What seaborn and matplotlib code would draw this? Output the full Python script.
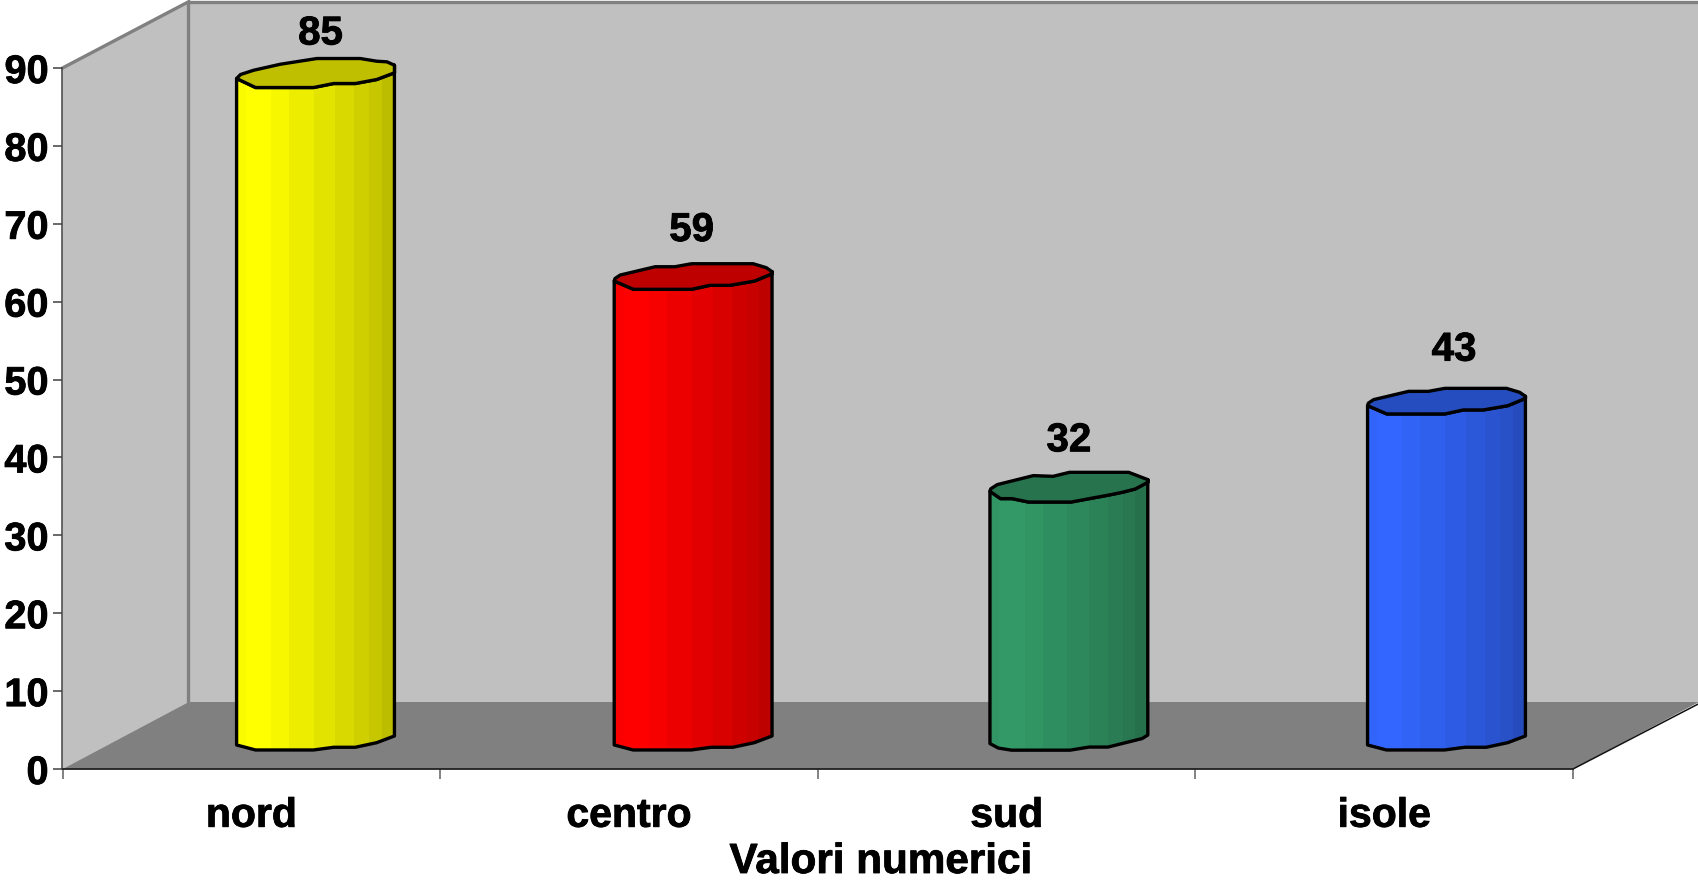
import matplotlib
matplotlib.use("Agg")
import matplotlib.pyplot as plt
import matplotlib.patheffects as pe
from matplotlib.patches import Polygon
import pandas as pd
import seaborn as sns

categories = ["nord", "centro", "sud", "isole"]
values = [85, 59, 32, 43]
y_ticks = [0, 10, 20, 30, 40, 50, 60, 70, 80, 90]
colors = ["#FFFF00", "#FF0000", "#339966", "#3366FF"]
x_title = "Valori numerici"

W, H = 1699, 882
PX_LEFT, PX_RIGHT, PX_BOTTOM, PX_TOP = 62.5, 1573, 769, 68
Y_MAX = 90
PX_PER_Y = (PX_BOTTOM - PX_TOP) / Y_MAX
DEPTH_X, DEPTH_Y, TOP_Y = 0.3337, 8.6, 98.5
BAR_W = 0.418
BAR_SHIFT = [0.17, 0.17, 0.165, 0.165]
BAR_BASE = 3.65

strip_edges = [0, .06, .12, .22, .335, .49, .625, .745, .84, .92, 1]
strip_shades = [.98, 1, 1, .97, .93, .89, .85, .81, .78, .74]
CAP_SHADE = .75

NORD_LOW = [(0, 0), (.12, -9), (.488, -9), (.615, -5), (.752, -5), (.888, -1), (1, 5.7)]
NORD_UP = [(1, 13.3), (.952, 16.7), (.888, 17.3), (.783, 20), (.509, 20), (.278, 14.3), (.109, 8.3), (.025, 4)]
MID_LOW = [(0, 0), (.122, -8.3), (.49, -8.3), (.606, -4.3), (.733, -4.3), (.89, 0), (1, 7.3)]
MID_UP = [(1, 9.3), (.964, 13.3), (.88, 17.3), (.49, 17.3), (.385, 14.3), (.26, 14.3), (.038, 6), (.005, 2.5)]
SUD_LOW = [(0, 0), (.067, -7.3), (.14, -7.3), (.244, -10.7), (.515, -10.7), (.63, -7.3),
           (.744, -4), (.838, -1), (.92, 2.3), (1, 9)]
SUD_UP = [(1, 11.7), (.879, 19), (.504, 19), (.4, 15), (.275, 15.7), (.046, 6.7), (.005, 2.5)]
cap_low = [NORD_LOW, MID_LOW, SUD_LOW, MID_LOW]
cap_up = [NORD_UP, MID_UP, SUD_UP, MID_UP]
FOOT_A = [(0, -4.4), (.12, -9.4), (.488, -9.4), (.615, -6.7), (.752, -6.7), (.888, -2.1), (1, 4.6)]
FOOT_B = [(0, -3), (.053, -7.5), (.137, -9.6), (.508, -9.6), (.628, -6.5), (.748, -6.5),
          (.964, 2), (1, 5.5)]
foots = [FOOT_A, FOOT_A, FOOT_B, FOOT_A]
label_dx = [5, -1.5, 0, 7.5]
label_dy = [49, 55, 55, 60]

sns.set_style("white")
plt.rcParams["font.family"] = ["Liberation Sans", "DejaVu Sans"]
plt.rcParams["font.weight"] = "bold"
HEAVY = [pe.withStroke(linewidth=0.6, foreground="black")]

fig = plt.figure(figsize=(W / 100, H / 100), dpi=100, facecolor="white")
ax = fig.add_axes([PX_LEFT / W, (H - PX_BOTTOM) / H,
                   (PX_RIGHT - PX_LEFT) / W, (PX_BOTTOM - PX_TOP) / H])
ax.patch.set_visible(False)

df = pd.DataFrame({"region": categories, "valore": values})
sns.barplot(data=df, x="region", y="valore", hue="region", palette=colors, legend=False,
            width=BAR_W, saturation=1, linewidth=0, ax=ax)
ax.set_xlim(-0.5, 3.5)
ax.set_ylim(0, Y_MAX)

# 3D box
L, R = -0.5, 3.5
wall = dict(closed=True, clip_on=False, linewidth=0)
ax.add_patch(Polygon([(L, 0), (L + DEPTH_X, DEPTH_Y), (L + DEPTH_X, TOP_Y), (L, Y_MAX)],
                     facecolor="#C0C0C0", zorder=.3, **wall))
ax.add_patch(Polygon([(L + DEPTH_X, DEPTH_Y), (R + DEPTH_X, DEPTH_Y), (R + DEPTH_X, TOP_Y), (L + DEPTH_X, TOP_Y)],
                     facecolor="#C0C0C0", zorder=.3, **wall))
ax.add_patch(Polygon([(L, 0), (R, 0), (R + DEPTH_X, DEPTH_Y), (L + DEPTH_X, DEPTH_Y)],
                     facecolor="#808080", zorder=.4, **wall))
ax.plot([L, L + DEPTH_X, L + DEPTH_X], [Y_MAX, TOP_Y, DEPTH_Y], color="#808080", lw=2.4,
        clip_on=False, zorder=.5, solid_joinstyle="miter")
ax.plot([L + DEPTH_X, R + DEPTH_X], [TOP_Y, TOP_Y], color="#808080", lw=2.4, clip_on=False, zorder=.5)
ax.plot([R, R + DEPTH_X], [0, DEPTH_Y - .2], color="#111111", lw=1.1, clip_on=False, zorder=.5)

# Cylinders
def shade(hex_color, factor):
    rgb = matplotlib.colors.to_rgb(hex_color)
    return tuple(c * factor for c in rgb)

for i, (patch, val, col) in enumerate(zip(ax.patches[:len(values)], values, colors)):
    patch.set_x(patch.get_x() + BAR_SHIFT[i])
    patch.set_y(BAR_BASE)
    x0, w, top = patch.get_x(), patch.get_width(), BAR_BASE + val
    to_xy = lambda pts, y: [(x0 + f * w, y + d / PX_PER_Y) for f, d in pts]
    low = to_xy(cap_low[i], top)
    up = to_xy(cap_up[i], top)
    foot = to_xy(foots[i], BAR_BASE)
    outline = low + up[:1] + foot[::-1]
    ax.add_patch(Polygon(outline, closed=True, facecolor="none", edgecolor="black",
                         linewidth=2.4, zorder=1.5, clip_on=False, joinstyle="round"))
    clip = Polygon(outline, closed=True, transform=ax.transData)
    patch.set_clip_path(clip)
    for a, b, s in zip(strip_edges[:-1], strip_edges[1:], strip_shades):
        st = ax.bar(x0 + a * w, top + 5, (b - a) * w + .0008, bottom=0, align="edge",
                    color=[shade(col, s)], linewidth=0, zorder=1.2)[0]
        st.set_clip_path(clip)
    ax.add_patch(Polygon(low + up, closed=True, facecolor=shade(col, CAP_SHADE), edgecolor="black",
                         linewidth=2.4, zorder=1.6, clip_on=False, joinstyle="round"))
    ax.annotate(str(val), xy=(x0 + w / 2, top), xytext=(label_dx[i], label_dy[i]),
                textcoords="offset pixels", ha="center", va="center_baseline", fontsize=29,
                fontweight="bold", color="black", annotation_clip=False, path_effects=HEAVY)

# Axes furniture
sns.despine(ax=ax, top=True, right=True)
ax.spines["left"].set_color("#404040")
ax.spines["left"].set_linewidth(1.1)
ax.spines["bottom"].set_color("#202020")
ax.spines["bottom"].set_linewidth(1.3)
ax.set_yticks(y_ticks)
ax.set_ylabel("")
ax.tick_params(axis="y", left=True, length=6.8, width=1.1, color="#404040", pad=3.2,
               labelsize=28.6, labelcolor="black")
ax.set_xticks(range(len(categories)))
ax.set_xticklabels(categories)
ax.set_xticks([-.5, .5, 1.5, 2.5, 3.5], minor=True)
ax.tick_params(axis="x", which="major", bottom=False, length=0, pad=20, labelsize=29.5, labelcolor="black")
ax.tick_params(axis="x", which="minor", bottom=True, length=7, width=1.1, color="#606060")
ax.set_xlabel(x_title, fontsize=30.4, fontweight="bold", color="black", va="center")
ax.xaxis.set_label_coords((881 - PX_LEFT) / (PX_RIGHT - PX_LEFT), (PX_BOTTOM - 862) / (PX_BOTTOM - PX_TOP))
for t in ax.get_xticklabels() + ax.get_yticklabels() + [ax.xaxis.label]:
    t.set_path_effects(HEAVY)

fig.savefig("out.png", dpi=100, facecolor="white")
